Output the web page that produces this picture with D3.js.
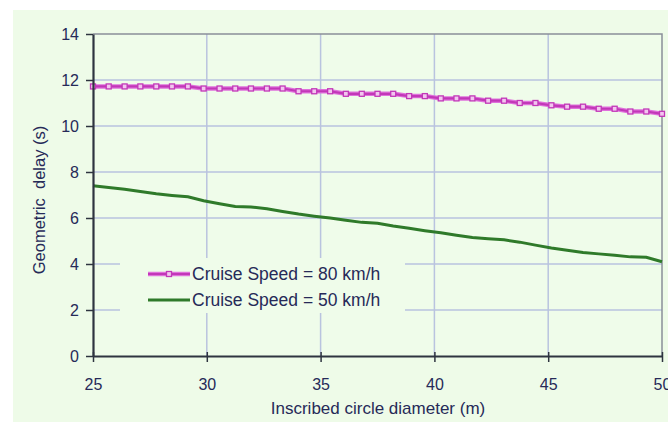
<!DOCTYPE html>
<html>
<head>
<meta charset="utf-8">
<script src="https://cdn.jsdelivr.net/npm/d3@7"></script>
<style>
  body { margin: 0; background: #fff; }
  text { font-family: "Liberation Sans", Arial, sans-serif; fill: #262a58; }
</style>
</head>
<body>
<script>
// diameter (m) - 37 sample points
var diameters = [25, 25.69, 26.39, 27.08, 27.78, 28.47, 29.17, 29.86, 30.56, 31.25, 31.94, 32.64,
  33.33, 34.03, 34.72, 35.42, 36.11, 36.81, 37.5, 38.19, 38.89, 39.58, 40.28, 40.97, 41.67,
  42.36, 43.06, 43.75, 44.44, 45.14, 45.83, 46.53, 47.22, 47.92, 48.61, 49.31, 50];

// delay (s) at 80 km/h
var speed80 = [11.72, 11.72, 11.72, 11.72, 11.72, 11.72, 11.72, 11.63, 11.63, 11.63, 11.63, 11.63,
  11.63, 11.51, 11.51, 11.51, 11.4, 11.4, 11.4, 11.4, 11.3, 11.3, 11.2, 11.2, 11.2,
  11.1, 11.1, 11.0, 11.0, 10.9, 10.84, 10.84, 10.75, 10.75, 10.63, 10.63, 10.53];

// delay (s) at 50 km/h
var speed50 = [7.40, 7.33, 7.25, 7.15, 7.05, 6.98, 6.92, 6.75, 6.62, 6.50, 6.48, 6.40,
  6.28, 6.17, 6.08, 6.00, 5.90, 5.81, 5.77, 5.65, 5.55, 5.45, 5.36, 5.25, 5.15,
  5.10, 5.05, 4.95, 4.82, 4.70, 4.60, 4.50, 4.44, 4.38, 4.31, 4.29, 4.10];

var xTicks = [25, 30, 35, 40, 45, 50];
var yTicks = [0, 2, 4, 6, 8, 10, 12, 14];
var seriesNames = ["Cruise Speed = 80 km/h", "Cruise Speed = 50 km/h"];

var width = 668, height = 423;
// plot box (window.top is taken, so p-prefixed names)
var pLeft = 93, pRight = 662, pTop = 34, pBottom = 356;

var svg = d3.select("body").append("svg")
    .attr("width", width)
    .attr("height", height);

// panel background
svg.append("rect")
    .attr("x", 13).attr("y", 10)
    .attr("width", width - 13).attr("height", 412)
    .attr("fill", "#eefbe8");

var x = d3.scaleLinear().domain([25, 50]).range([pLeft, pRight]);
var y = d3.scaleLinear().domain([0, 14]).range([pBottom, pTop]);

svg.append("rect")
    .attr("x", pLeft).attr("y", pTop)
    .attr("width", pRight - pLeft).attr("height", pBottom - pTop)
    .attr("fill", "#effcea");

// grid
svg.append("g").selectAll("line")
    .data(yTicks.filter(function(d) { return d > 0 && d < 14; }))
    .enter().append("line")
    .attr("x1", pLeft).attr("x2", pRight)
    .attr("y1", function(d) { return y(d); })
    .attr("y2", function(d) { return y(d); })
    .attr("stroke", "#b9c3df").attr("stroke-width", 1.5);

svg.append("g").selectAll("line")
    .data(xTicks.filter(function(d) { return d > 25 && d < 50; }))
    .enter().append("line")
    .attr("y1", pTop).attr("y2", pBottom)
    .attr("x1", function(d) { return x(d); })
    .attr("x2", function(d) { return x(d); })
    .attr("stroke", "#b9c3df").attr("stroke-width", 1.5);

// top and right border
svg.append("path")
    .attr("d", "M" + pLeft + "," + pTop + "H" + pRight + "V" + pBottom)
    .attr("fill", "none")
    .attr("stroke", "#8a8f99")
    .attr("stroke-width", 1.5);

// legend box hides the grid behind it
svg.append("rect")
    .attr("x", 120).attr("y", 258)
    .attr("width", 285).attr("height", 55)
    .attr("fill", "#effcea");

// lines
var lineGen = d3.line()
    .x(function(d, i) { return x(diameters[i]); })
    .y(function(d) { return y(d); });

svg.append("path")
    .datum(speed50)
    .attr("d", lineGen)
    .attr("fill", "none")
    .attr("stroke", "#2f7a2a")
    .attr("stroke-width", 3);

svg.append("path")
    .datum(speed80)
    .attr("d", lineGen)
    .attr("fill", "none")
    .attr("stroke", "#e070dc")
    .attr("stroke-width", 4.5);
svg.append("path")
    .datum(speed80)
    .attr("d", lineGen)
    .attr("fill", "none")
    .attr("stroke", "#c238b8")
    .attr("stroke-width", 2.2);

svg.append("g").selectAll("rect")
    .data(speed80)
    .enter().append("rect")
    .attr("x", function(d, i) { return x(diameters[i]) - 2.5; })
    .attr("y", function(d) { return y(d) - 2.5; })
    .attr("width", 5).attr("height", 5)
    .attr("fill", "#f2c6ef")
    .attr("stroke", "#c238b8")
    .attr("stroke-width", 1.3);

// axes
var yAxis = svg.append("g")
    .attr("transform", "translate(" + pLeft + ",0)")
    .call(d3.axisLeft(y).tickValues(yTicks).tickSize(7).tickPadding(7).tickSizeOuter(0));

var xAxis = svg.append("g")
    .attr("transform", "translate(0," + pBottom + ")")
    .call(d3.axisBottom(x).tickValues(xTicks).tickSize(6).tickPadding(17).tickSizeOuter(0));

xAxis.selectAll(".tick").append("line")
    .attr("y2", -4)
    .attr("stroke", "#2e3440")
    .attr("stroke-width", 1.5);

[yAxis, xAxis].forEach(function(ax) {
    ax.select(".domain").attr("stroke", "#2e3440").attr("stroke-width", 2.2);
    ax.selectAll(".tick line").attr("stroke", "#2e3440").attr("stroke-width", 1.5);
    ax.selectAll(".tick text")
        .style("font-family", "'Liberation Sans', Arial, sans-serif")
        .style("font-size", "16px")
        .attr("fill", "#262a58");
});

// axis titles
svg.append("text")
    .attr("x", 378)
    .attr("y", 414)
    .attr("text-anchor", "middle")
    .style("font-size", "17px")
    .text("Inscribed circle diameter (m)");

svg.append("text")
    .attr("transform", "translate(45,200) rotate(-90)")
    .attr("text-anchor", "middle")
    .style("font-size", "16.5px")
    .style("white-space", "pre")
    .text("Geometric  delay (s)");

// legend
var legend = svg.append("g").attr("transform", "translate(148,274)");
legend.append("line")
    .attr("x1", 0).attr("x2", 42)
    .attr("stroke", "#e070dc").attr("stroke-width", 4.5);
legend.append("line")
    .attr("x1", 0).attr("x2", 42)
    .attr("stroke", "#c238b8").attr("stroke-width", 2.2);
legend.append("rect")
    .attr("x", 18.5).attr("y", -2.5)
    .attr("width", 5).attr("height", 5)
    .attr("fill", "#f2c6ef")
    .attr("stroke", "#c238b8")
    .attr("stroke-width", 1.3);
legend.append("line")
    .attr("x1", 0).attr("x2", 42)
    .attr("y1", 26).attr("y2", 26)
    .attr("stroke", "#2f7a2a").attr("stroke-width", 3);

legend.selectAll("text.lab")
    .data(seriesNames)
    .enter().append("text")
    .attr("class", "lab")
    .attr("x", 44)
    .attr("y", function(d, i) { return i * 26 + 6; })
    .style("font-size", "17.5px")
    .text(function(d) { return d; });
</script>
</body>
</html>
